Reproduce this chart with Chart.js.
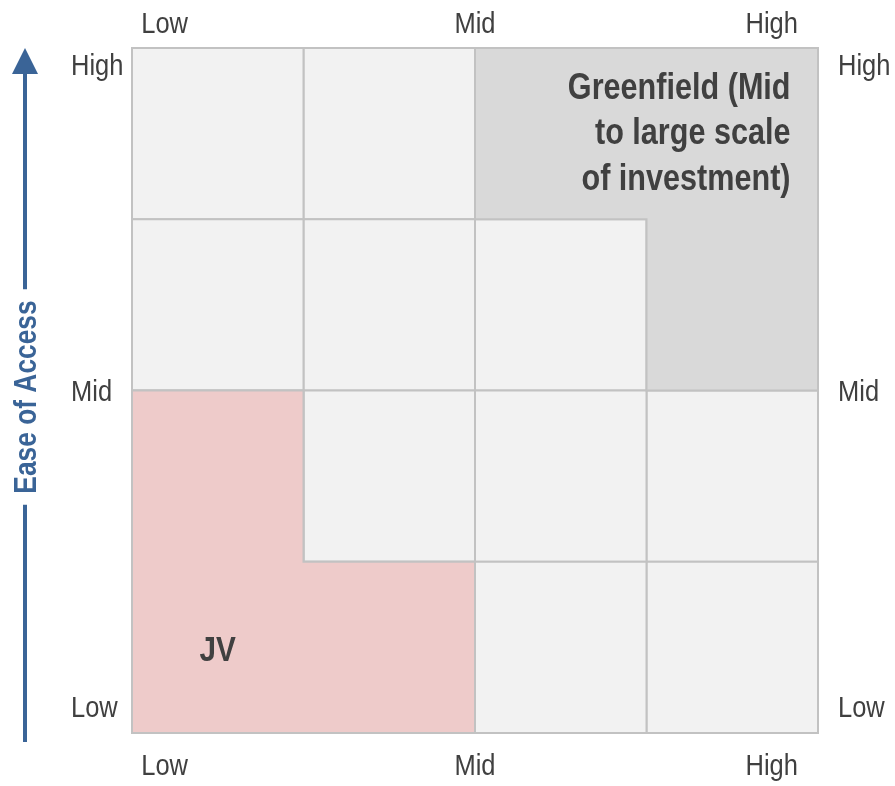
<!DOCTYPE html>
<html>
<head>
<meta charset="utf-8">
<script src="https://cdn.jsdelivr.net/npm/chart.js@4.4.1/dist/chart.umd.min.js"></script>
<style>
  html, body { margin: 0; padding: 0; background: #ffffff; }
  #wrap { width: 895px; height: 786px; }
</style>
</head>
<body>
<div id="wrap"><canvas id="matrix"></canvas></div>
<script>
// Matrix definition: 4 x 4 grid of cells on both axes (0..4)
const gridSize = 4;
const levelLabels = ['Low', 'Mid', 'High'];
// where each level word sits along the axes
const xLevelPos = [0.19, 2, 3.73];
const yLevelPos = [0.155, 2, 3.905];

// Entry-mode regions, outlined in grid units (x = scale of investment, y = ease of access)
const greenfieldOutline = [[2, 4], [4, 4], [4, 2], [3, 2], [3, 3], [2, 3]];
const jvOutline = [[0, 2], [1, 2], [1, 1], [2, 1], [2, 0], [0, 0]];

const greenfieldText = ['Greenfield (Mid', 'to large scale', 'of investment)'];
const greenfieldTextAnchor = [3.84, 3.705];
const jvText = 'JV';
const jvTextAnchor = [0.5, 0.42];

const axisTitle = 'Ease of Access';

const FONT = "'Liberation Sans', Arial, sans-serif";
const NARROW = 0.85;           // horizontal squeeze giving a narrow face
const TEXT = '#404040';
const ACCENT = '#3a6497';
const CELL_FILL = '#f2f2f2';
const CELL_LINE = '#c2c2c2';

function closed(points) {
  const pts = points.map(p => ({ x: p[0], y: p[1] }));
  pts.push({ x: points[0][0], y: points[0][1] });
  return pts;
}

function polygonDataset(points, fill, order) {
  return {
    data: closed(points),
    showLine: true,
    fill: 'shape',
    backgroundColor: fill,
    borderColor: CELL_LINE,
    borderWidth: 2,
    borderJoinStyle: 'miter',
    tension: 0,
    pointRadius: 0,
    pointHoverRadius: 0,
    clip: false,
    order: order
  };
}

const datasets = [];
for (let c = 0; c < gridSize; c++) {
  for (let r = 0; r < gridSize; r++) {
    datasets.push(polygonDataset([[c, r], [c + 1, r], [c + 1, r + 1], [c, r + 1]], CELL_FILL, 3));
  }
}
datasets.push(polygonDataset(greenfieldOutline, '#d9d9d9', 1));
datasets.push(polygonDataset(jvOutline, '#eecbca', 1));

function axis(position, size) {
  const sizeKey = (position === 'left' || position === 'right') ? 'width' : 'height';
  return {
    type: 'linear',
    position: position,
    min: 0,
    max: gridSize,
    grid: { display: false },
    border: { display: false },
    ticks: { display: false },
    afterFit(s) { s[sizeKey] = size; }
  };
}

// text squeezed horizontally around its anchor point
function narrowText(ctx, text, x, y, align, font, color) {
  ctx.save();
  ctx.font = font;
  ctx.fillStyle = color;
  ctx.textAlign = align;
  ctx.textBaseline = 'alphabetic';
  ctx.translate(x, y);
  ctx.scale(NARROW, 1);
  ctx.fillText(text, 0, 0);
  ctx.restore();
}

// Level words on all four sides, region captions and the "Ease of Access" arrow
const decorations = {
  id: 'decorations',
  afterDatasetsDraw(chart) {
    const { ctx, scales } = chart;
    const x = scales.x, y = scales.y;
    const tickFont = "30px " + FONT;
    const capHalf = 10.5;

    levelLabels.forEach((label, i) => {
      const px = x.getPixelForValue(xLevelPos[i]);
      narrowText(ctx, label, px, scales.x2.bottom - 15, 'center', tickFont, TEXT);
      narrowText(ctx, label, px, x.top + 42, 'center', tickFont, TEXT);
    });
    levelLabels.forEach((label, i) => {
      const py = y.getPixelForValue(yLevelPos[i]) + capHalf;
      narrowText(ctx, label, 71, py, 'left', tickFont, TEXT);
      narrowText(ctx, label, scales.y2.left + 20, py, 'left', tickFont, TEXT);
    });

    const boldFont = "bold 36px " + FONT;
    const gx = x.getPixelForValue(greenfieldTextAnchor[0]);
    const gy = y.getPixelForValue(greenfieldTextAnchor[1]);
    greenfieldText.forEach((line, i) => narrowText(ctx, line, gx, gy + i * 45.5, 'right', boldFont, TEXT));

    narrowText(ctx, jvText, x.getPixelForValue(jvTextAnchor[0]), y.getPixelForValue(jvTextAnchor[1]),
      'center', "bold 35px " + FONT, TEXT);

    // vertical arrow with the axis title in its gap
    const ax = 25;
    const tipY = y.top;
    const baseY = tipY + 26;
    const endY = y.bottom + 9;
    const midY = 397;
    const titleFont = "bold 31px " + FONT;
    ctx.save();
    ctx.font = titleFont;
    const tw = ctx.measureText(axisTitle).width * NARROW;
    const gap = 11;
    ctx.strokeStyle = ACCENT;
    ctx.lineWidth = 4;
    ctx.beginPath();
    ctx.moveTo(ax, baseY - 1);
    ctx.lineTo(ax, midY - tw / 2 - gap);
    ctx.moveTo(ax, midY + tw / 2 + gap);
    ctx.lineTo(ax, endY);
    ctx.stroke();
    ctx.fillStyle = ACCENT;
    ctx.beginPath();
    ctx.moveTo(ax, tipY);
    ctx.lineTo(ax + 13, baseY);
    ctx.lineTo(ax - 13, baseY);
    ctx.closePath();
    ctx.fill();
    ctx.translate(ax, midY);
    ctx.rotate(-Math.PI / 2);
    narrowText(ctx, axisTitle, 0, 11, 'center', titleFont, ACCENT);
    ctx.restore();
  }
};

new Chart(document.getElementById('matrix'), {
  type: 'scatter',
  data: { datasets: datasets },
  options: {
    responsive: true,
    maintainAspectRatio: false,
    animation: false,
    events: [],
    layout: { padding: { left: 71, top: 0, right: 0, bottom: 0 } },
    plugins: { legend: { display: false }, tooltip: { enabled: false } },
    scales: {
      x: axis('bottom', 53),
      x2: axis('top', 48),
      y: axis('left', 61),
      y2: axis('right', 77)
    }
  },
  plugins: [decorations]
});
</script>
</body>
</html>
